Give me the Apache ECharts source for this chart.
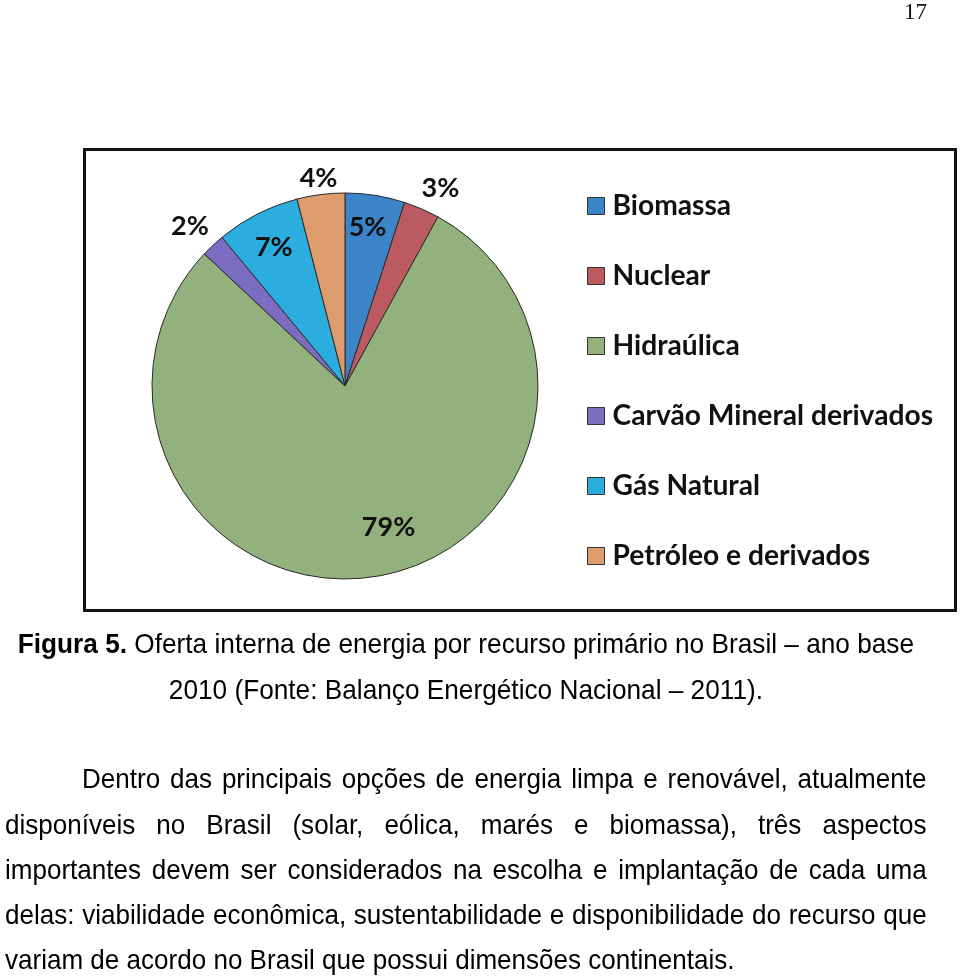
<!DOCTYPE html>
<html>
<head>
<meta charset="utf-8">
<script src="https://cdn.jsdelivr.net/npm/echarts@6/dist/echarts.min.js"></script>
<style>
  html, body { margin: 0; padding: 0; background: #fff; }
  #page { position: relative; width: 960px; height: 977px; overflow: hidden; }
  #chart { position: absolute; left: 0; top: 0; width: 960px; height: 977px; }
  .t { position: absolute; font-family: "Liberation Sans", Arial, sans-serif; color: #000; white-space: nowrap; transform-origin: 0 0; }
  #pnum { position: absolute; left: 880px; top: 0px; width: 47px; text-align: right; font-family: "Liberation Serif", serif; font-size: 23px; line-height: 24px; color: #111; }
  .cap { font-size: 28.5px; line-height: 30px; text-align: center; transform: scaleX(0.92); left: 5px; width: 1002px; }
  .pl { font-size: 28px; line-height: 30px; text-align: justify; text-align-last: justify; white-space: normal; transform: scaleX(0.93); left: 5px; width: 991px; }
  .last { text-align-last: left; }
</style>
</head>
<body>
<div id="page">
  <div id="chart"></div>
  <div id="pnum">17</div>
  <div class="t cap" style="top:628px"><b>Figura 5.</b> Oferta interna de energia por recurso primário no Brasil – ano base</div>
  <div class="t cap" style="top:674px">2010 (Fonte: Balanço Energético Nacional – 2011).</div>
  <div class="t pl" style="top:764px; left:82px; width:908px;">Dentro das principais opções de energia limpa e renovável, atualmente</div>
  <div class="t pl" style="top:810px">disponíveis no Brasil (solar, eólica, marés e biomassa), três aspectos</div>
  <div class="t pl" style="top:855px">importantes devem ser considerados na escolha e implantação de cada uma</div>
  <div class="t pl" style="top:900px">delas: viabilidade econômica, sustentabilidade e disponibilidade do recurso que</div>
  <div class="t pl last" style="top:945px">variam de acordo no Brasil que possui dimensões continentais.</div>
</div>
<script>
const categories = ['Biomassa', 'Nuclear', 'Hidraúlica', 'Carvão Mineral derivados', 'Gás Natural', 'Petróleo e derivados'];
const shares = [5, 3, 79, 2, 7, 4];
const colors = ['#3B84C8', '#BC5A62', '#93B17C', '#7B6CC2', '#2CADE0', '#DE9B6B'];
const labelOffsets = [[7, -60], [56, -106], [28, 43], [-87, -87], [-26, -50], [-14, -109]];

const chart = echarts.init(document.getElementById('chart'), null, { renderer: 'canvas' });
chart.setOption({
  animation: false,
  backgroundColor: '#fff',
  graphic: [{
    type: 'rect',
    shape: { x: 84.5, y: 149.5, width: 871, height: 461 },
    style: { fill: 'none', stroke: '#111', lineWidth: 3 },
    z: 100
  }],
  legend: {
    orient: 'vertical',
    left: 587,
    top: 191,
    padding: 0,
    itemWidth: 17,
    itemHeight: 17,
    itemGap: 40,
    icon: 'rect',
    selectedMode: false,
    itemStyle: { borderColor: '#333', borderWidth: 1 },
    textStyle: { fontFamily: 'Lato', fontWeight: 'bold', fontSize: 28.2, lineHeight: 30, color: '#111', padding: [0, 0, 0, 3] },
    data: categories
  },
  series: [{
    type: 'pie',
    center: [345, 386],
    radius: 193,
    startAngle: 90,
    clockwise: true,
    avoidLabelOverlap: false,
    itemStyle: { borderColor: '#2a2a2a', borderWidth: 1 },
    label: {
      show: true,
      position: 'inside',
      formatter: '{c}%',
      fontFamily: 'Lato',
      fontWeight: 'bold',
      fontSize: 27,
      color: '#111'
    },
    labelLine: { show: false },
    emphasis: { disabled: true },
    data: categories.map((name, i) => ({
      name: name,
      value: shares[i],
      itemStyle: { color: colors[i] },
      label: { offset: labelOffsets[i] }
    }))
  }]
});
</script>
</body>
</html>
